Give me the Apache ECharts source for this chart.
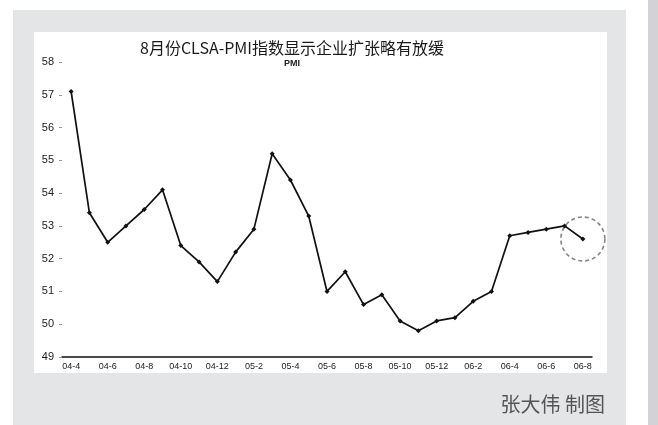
<!DOCTYPE html>
<html>
<head>
<meta charset="utf-8">
<script src="https://cdn.jsdelivr.net/npm/echarts@6/dist/echarts.min.js"></script>
<style>
html,body{margin:0;padding:0;background:#ffffff;}
#c{width:658px;height:425px;}
</style>
</head>
<body>
<div id="c"></div>
<script>
var categories = ["04-4","04-5","04-6","04-7","04-8","04-9","04-10","04-11","04-12",
  "05-1","05-2","05-3","05-4","05-5","05-6","05-7","05-8","05-9","05-10","05-11","05-12",
  "06-1","06-2","06-3","06-4","06-5","06-6","06-7","06-8"];
var pmiValues = [57.1, 53.4, 52.5, 53.0, 53.5, 54.1, 52.4, 51.9, 51.3, 52.2, 52.9, 55.2, 54.4, 53.3,
  51.0, 51.6, 50.6, 50.9, 50.1, 49.8, 50.1, 50.2, 50.7, 51.0, 52.7, 52.8, 52.9, 53.0, 52.6];
var yTicks = [49, 50, 51, 52, 53, 54, 55, 56, 57, 58];
var titleText = "8月份CLSA-PMI指数显示企业扩张略有放缓";
var subTitleText = "PMI";
var creditText = "张大伟 制图";

var lastIdx = pmiValues.length - 1;
var highlight = pmiValues.map(function(v, i){ return i === lastIdx ? v : null; });

var chart = echarts.init(document.getElementById('c'), null, {renderer: 'canvas'});
var option = {
  animation: false,
  backgroundColor: '#ffffff',
  graphic: [
    {type: 'rect', z: -10, shape: {x: 13, y: 10, width: 613, height: 415}, style: {fill: '#e4e5e7'}},
    {type: 'rect', z: -10, shape: {x: 648, y: 0, width: 10, height: 425}, style: {fill: '#d3d3d5'}},
    {type: 'rect', z: -9, shape: {x: 34, y: 32, width: 573, height: 341}, style: {fill: '#ffffff'}},
    {type: 'text', x: 292, y: 48, style: {text: titleText, fill: '#1a1a1a', font: '16px "Noto Sans CJK SC"', align: 'center', verticalAlign: 'middle'}},
    {type: 'text', x: 292, y: 64, style: {text: subTitleText, fill: '#222', font: 'bold 9px "Liberation Sans"', align: 'center', verticalAlign: 'middle'}},
    {type: 'text', x: 605, y: 404, style: {text: creditText, fill: '#555', font: '20px "Noto Sans CJK SC"', align: 'right', verticalAlign: 'middle'}}
  ],
  grid: {left: 62, right: 66, top: 62, bottom: 68, containLabel: false},
  xAxis: {
    type: 'category',
    data: categories,
    boundaryGap: true,
    axisLine: {show: true, lineStyle: {color: '#111', width: 1.5}},
    axisTick: {show: false},
    axisLabel: {interval: 1, color: '#222', fontSize: 9, margin: 5, fontFamily: 'Liberation Sans Narrow, Liberation Sans'}
  },
  yAxis: {
    type: 'value',
    min: yTicks[0],
    max: yTicks[yTicks.length - 1],
    interval: 1,
    axisLine: {show: false},
    axisTick: {show: true, length: 3, lineStyle: {color: '#999'}},
    splitLine: {show: false},
    axisLabel: {color: '#222', fontSize: 11, margin: 8, fontFamily: 'Liberation Sans Narrow, Liberation Sans'}
  },
  series: [
    {
      type: 'line',
      data: pmiValues,
      symbol: 'diamond',
      symbolSize: 5,
      lineStyle: {color: '#111', width: 1.7},
      itemStyle: {color: '#111'}
    },
    {
      type: 'scatter',
      data: highlight,
      symbol: 'circle',
      symbolSize: 44,
      itemStyle: {color: 'transparent', borderColor: '#666', borderWidth: 1.6, borderType: [4, 3]},
      z: 1
    }
  ]
};
chart.setOption(option);
</script>
</body>
</html>
